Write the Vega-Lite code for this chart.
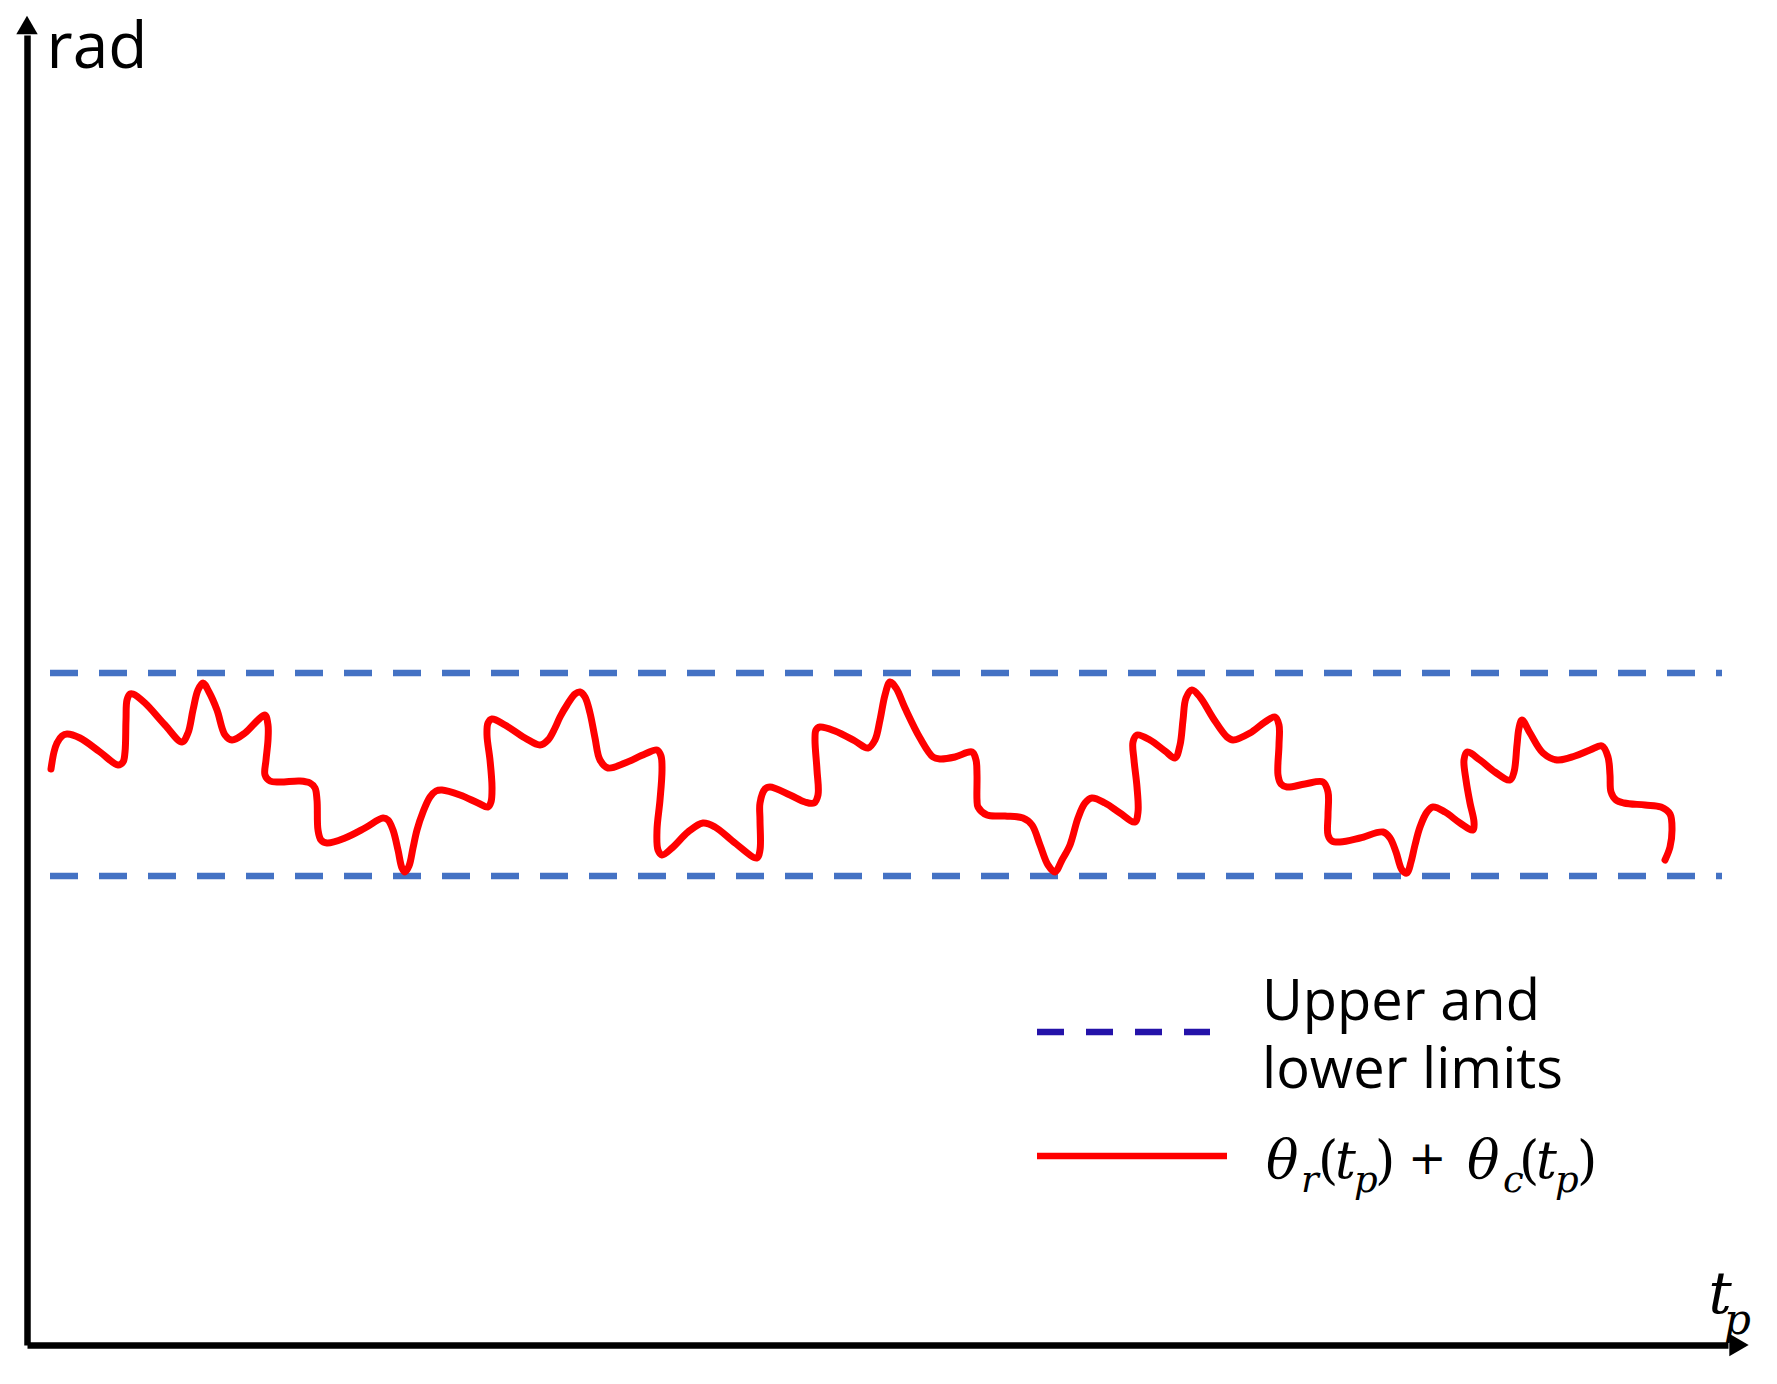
{
  "$schema": "https://vega.github.io/schema/vega-lite/v6.json",
  "width": 1701,
  "height": 1310,
  "autosize": {"type": "none"},
  "padding": {"left": 27, "top": 35, "right": 49, "bottom": 39},
  "background": "white",
  "config": {"view": {"stroke": null}},
  "datasets": {
    "curve": [
      {"i":1,"t":51,"rad":576},{"i":2,"t":54,"rad":593},{"i":3,"t":57,"rad":602},{"i":4,"t":62,"rad":609},{"i":5,"t":67,"rad":611},{"i":6,"t":80,"rad":607},{"i":7,"t":100,"rad":593},{"i":8,"t":118,"rad":580},{"i":9,"t":123,"rad":583},{"i":10,"t":125,"rad":593},{"i":11,"t":126,"rad":625},{"i":12,"t":127,"rad":645},{"i":13,"t":130,"rad":651},{"i":14,"t":133,"rad":651},{"i":15,"t":145,"rad":642},{"i":16,"t":165,"rad":620},{"i":17,"t":182,"rad":603},{"i":18,"t":188,"rad":612},{"i":19,"t":193,"rad":635},{"i":20,"t":198,"rad":655},{"i":21,"t":203,"rad":662},{"i":22,"t":209,"rad":653},{"i":23,"t":217,"rad":635},{"i":24,"t":225,"rad":610},{"i":25,"t":232,"rad":605},{"i":26,"t":245,"rad":612},{"i":27,"t":258,"rad":625},{"i":28,"t":265,"rad":630},{"i":29,"t":268,"rad":620},{"i":30,"t":268,"rad":605},{"i":31,"t":266,"rad":585},{"i":32,"t":265,"rad":570},{"i":33,"t":270,"rad":564},{"i":34,"t":280,"rad":563},{"i":35,"t":300,"rad":564},{"i":36,"t":310,"rad":562},
      {"i":37,"t":315,"rad":557},{"i":38,"t":317,"rad":545},{"i":39,"t":318,"rad":515},{"i":40,"t":321,"rad":505},{"i":41,"t":327,"rad":502},{"i":42,"t":345,"rad":507},{"i":43,"t":365,"rad":517},{"i":44,"t":383,"rad":527},{"i":45,"t":388,"rad":525},{"i":46,"t":393,"rad":515},{"i":47,"t":398,"rad":495},{"i":48,"t":402,"rad":477},{"i":49,"t":405,"rad":473},{"i":50,"t":409,"rad":479},{"i":51,"t":413,"rad":497},{"i":52,"t":417,"rad":515},{"i":53,"t":423,"rad":533},{"i":54,"t":430,"rad":548},{"i":55,"t":436,"rad":554},{"i":56,"t":442,"rad":555},{"i":57,"t":460,"rad":550},{"i":58,"t":478,"rad":542},{"i":59,"t":488,"rad":538},{"i":60,"t":491,"rad":543},{"i":61,"t":492,"rad":558},{"i":62,"t":490,"rad":585},{"i":63,"t":487,"rad":610},{"i":64,"t":488,"rad":622},{"i":65,"t":492,"rad":626},{"i":66,"t":505,"rad":620},{"i":67,"t":525,"rad":607},{"i":68,"t":540,"rad":600},{"i":69,"t":548,"rad":605},{"i":70,"t":555,"rad":617},{"i":71,"t":560,"rad":628},
      {"i":72,"t":567,"rad":640},{"i":73,"t":575,"rad":651},{"i":74,"t":580,"rad":653},{"i":75,"t":585,"rad":648},{"i":76,"t":590,"rad":632},{"i":77,"t":595,"rad":607},{"i":78,"t":600,"rad":585},{"i":79,"t":608,"rad":577},{"i":80,"t":625,"rad":582},{"i":81,"t":645,"rad":591},{"i":82,"t":657,"rad":595},{"i":83,"t":661,"rad":589},{"i":84,"t":662,"rad":575},{"i":85,"t":660,"rad":545},{"i":86,"t":657,"rad":515},{"i":87,"t":658,"rad":495},{"i":88,"t":662,"rad":490},{"i":89,"t":672,"rad":497},{"i":90,"t":688,"rad":513},{"i":91,"t":703,"rad":522},{"i":92,"t":715,"rad":518},{"i":93,"t":735,"rad":502},{"i":94,"t":757,"rad":487},{"i":95,"t":760,"rad":495},{"i":96,"t":760,"rad":525},{"i":97,"t":760,"rad":542},{"i":98,"t":765,"rad":556},{"i":99,"t":770,"rad":558},{"i":100,"t":790,"rad":550},{"i":101,"t":805,"rad":543},{"i":102,"t":814,"rad":542},{"i":103,"t":818,"rad":550},{"i":104,"t":817,"rad":575},{"i":105,"t":815,"rad":605},{"i":106,"t":816,"rad":615},{"i":107,"t":820,"rad":618},{"i":108,"t":835,"rad":614},{"i":109,"t":855,"rad":604},{"i":110,"t":868,"rad":597},{"i":111,"t":875,"rad":605},{"i":112,"t":880,"rad":625},{"i":113,"t":885,"rad":650},{"i":114,"t":890,"rad":663},{"i":115,"t":896,"rad":657},{"i":116,"t":905,"rad":637},{"i":117,"t":920,"rad":607},{"i":118,"t":933,"rad":588},{"i":119,"t":940,"rad":586},{"i":120,"t":955,"rad":588},{"i":121,"t":972,"rad":593},{"i":122,"t":976,"rad":585},{"i":123,"t":977,"rad":570},{"i":124,"t":977,"rad":545},{"i":125,"t":978,"rad":538},{"i":126,"t":987,"rad":530},{"i":127,"t":1005,"rad":529},{"i":128,"t":1023,"rad":527},{"i":129,"t":1032,"rad":520},{"i":130,"t":1040,"rad":500},{"i":131,"t":1048,"rad":480},{"i":132,"t":1055,"rad":473},{"i":133,"t":1062,"rad":485},{"i":134,"t":1070,"rad":500},{"i":135,"t":1078,"rad":527},{"i":136,"t":1085,"rad":542},{"i":137,"t":1092,"rad":547},{"i":138,"t":1105,"rad":542},{"i":139,"t":1120,"rad":532},{"i":140,"t":1135,"rad":523},{"i":141,"t":1138,"rad":533},{"i":142,"t":1137,"rad":558},{"i":143,"t":1134,"rad":585},{"i":144,"t":1133,"rad":603},{"i":145,"t":1137,"rad":610},{"i":146,"t":1150,"rad":605},{"i":147,"t":1165,"rad":594},{"i":148,"t":1175,"rad":587},{"i":149,"t":1180,"rad":600},{"i":150,"t":1183,"rad":625},{"i":151,"t":1186,"rad":647},{"i":152,"t":1192,"rad":655},{"i":153,"t":1200,"rad":648},{"i":154,"t":1213,"rad":627},{"i":155,"t":1227,"rad":608},{"i":156,"t":1233,"rad":605},{"i":157,"t":1250,"rad":612},{"i":158,"t":1265,"rad":623},{"i":159,"t":1275,"rad":628},{"i":160,"t":1279,"rad":620},{"i":161,"t":1279,"rad":600},{"i":162,"t":1278,"rad":570},{"i":163,"t":1281,"rad":561},{"i":164,"t":1287,"rad":558},{"i":165,"t":1305,"rad":561},{"i":166,"t":1323,"rad":563},{"i":167,"t":1328,"rad":553},{"i":168,"t":1328,"rad":530},{"i":169,"t":1328,"rad":510},{"i":170,"t":1332,"rad":504},{"i":171,"t":1340,"rad":503},{"i":172,"t":1360,"rad":507},{"i":173,"t":1383,"rad":513},{"i":174,"t":1390,"rad":507},{"i":175,"t":1396,"rad":493},{"i":176,"t":1402,"rad":475},{"i":177,"t":1407,"rad":472},{"i":178,"t":1411,"rad":483},{"i":179,"t":1415,"rad":500},{"i":180,"t":1420,"rad":518},{"i":181,"t":1427,"rad":533},{"i":182,"t":1433,"rad":538},{"i":183,"t":1445,"rad":533},{"i":184,"t":1460,"rad":522},{"i":185,"t":1473,"rad":515},{"i":186,"t":1474,"rad":523},{"i":187,"t":1470,"rad":542},{"i":188,"t":1466,"rad":565},{"i":189,"t":1464,"rad":585},{"i":190,"t":1467,"rad":593},{"i":191,"t":1480,"rad":585},{"i":192,"t":1495,"rad":573},{"i":193,"t":1510,"rad":565},{"i":194,"t":1514,"rad":573},{"i":195,"t":1517,"rad":600},{"i":196,"t":1519,"rad":617},{"i":197,"t":1522,"rad":625},{"i":198,"t":1530,"rad":612},{"i":199,"t":1543,"rad":592},{"i":200,"t":1557,"rad":585},{"i":201,"t":1575,"rad":589},{"i":202,"t":1590,"rad":595},{"i":203,"t":1602,"rad":599},{"i":204,"t":1608,"rad":588},{"i":205,"t":1610,"rad":570},{"i":206,"t":1611,"rad":553},{"i":207,"t":1616,"rad":545},{"i":208,"t":1624,"rad":542},{"i":209,"t":1645,"rad":540},{"i":210,"t":1661,"rad":538},{"i":211,"t":1670,"rad":531},{"i":212,"t":1672,"rad":515},{"i":213,"t":1670,"rad":498},{"i":214,"t":1665,"rad":485}
    ],
    "limits": [
      {"limit": "upper", "rad": 672, "t0": 50, "t1": 1722},
      {"limit": "lower", "rad": 469, "t0": 50, "t1": 1722}
    ],
    "one": [{}]
  },
  "layer": [
    {
      "data": {"name": "limits"},
      "mark": {"type": "rule", "color": "#4472C4", "strokeWidth": 6.5, "strokeDash": [28, 21], "strokeCap": "butt"},
      "encoding": {
        "x": {"field": "t0", "type": "quantitative", "scale": {"domain": [27, 1728], "nice": false, "zero": false},
          "axis": {"title": "t", "domain": true, "domainColor": "black", "domainWidth": 6.5, "domainOpacity": 1, "ticks": false, "labels": false, "grid": false,
            "titleFont": "DejaVu Serif", "titleFontStyle": "italic", "titleFontWeight": "normal", "titleFontSize": 58, "titleColor": "black",
            "titleX": 1681, "titleY": -33, "titleAlign": "left", "titleBaseline": "alphabetic", "titleAngle": 0}},
        "x2": {"field": "t1"},
        "y": {"field": "rad", "type": "quantitative", "scale": {"domain": [0, 1310], "nice": false, "zero": false},
          "axis": {"title": "rad", "domain": true, "domainColor": "black", "domainWidth": 6.5, "domainOpacity": 1, "ticks": false, "labels": false, "grid": false,
            "titleFont": "Open Sans", "titleFontWeight": "normal", "titleFontSize": 64, "titleColor": "black",
            "titleX": 19, "titleY": 32, "titleAlign": "left", "titleBaseline": "alphabetic", "titleAngle": 0}}
      }
    },
    {
      "data": {"name": "curve"},
      "mark": {"type": "line", "color": "#FF0000", "strokeWidth": 7, "interpolate": "catmull-rom", "strokeCap": "round", "strokeJoin": "round"},
      "encoding": {
        "x": {"field": "t", "type": "quantitative"},
        "y": {"field": "rad", "type": "quantitative"},
        "order": {"field": "i", "type": "quantitative"}
      }
    },
    {
      "data": {"name": "one"},
      "mark": {"type": "point", "shape": "triangle-up", "filled": true, "color": "black", "size": 460, "opacity": 1},
      "encoding": {"x": {"datum": 27}, "y": {"datum": 1320}}
    },
    {
      "data": {"name": "one"},
      "mark": {"type": "point", "shape": "triangle-right", "filled": true, "color": "black", "size": 500, "opacity": 1},
      "encoding": {"x": {"datum": 1739}, "y": {"datum": 0}}
    },
    {
      "data": {"name": "one"},
      "mark": {"type": "text", "text": "p", "font": "DejaVu Serif", "fontStyle": "italic", "fontSize": 42, "align": "left", "baseline": "alphabetic", "color": "black"},
      "encoding": {"x": {"datum": 1724}, "y": {"datum": 11}}
    },
    {
      "data": {"name": "one"},
      "mark": {"type": "rule", "color": "#2412A9", "strokeWidth": 6.5, "strokeDash": [27, 22], "strokeCap": "butt"},
      "encoding": {"x": {"datum": 1037}, "x2": {"datum": 1210}, "y": {"datum": 313}}
    },
    {
      "data": {"name": "one"},
      "mark": {"type": "rule", "color": "#FF0000", "strokeWidth": 6.5, "strokeCap": "butt"},
      "encoding": {"x": {"datum": 1037}, "x2": {"datum": 1227}, "y": {"datum": 189}}
    },
    {
      "data": {"name": "one"},
      "mark": {"type": "text", "text": ["Upper and", "lower limits"], "font": "Open Sans", "fontSize": 56, "lineHeight": 68, "align": "left", "baseline": "alphabetic", "color": "black"},
      "encoding": {"x": {"datum": 1262}, "y": {"datum": 325}}
    },
    {
      "data": {"name": "one"},
      "mark": {"type": "text", "text": "θ", "font": "DejaVu Serif", "fontStyle": "italic", "fontSize": 54, "align": "left", "baseline": "alphabetic", "color": "black"},
      "encoding": {"x": {"datum": 1266}, "y": {"datum": 167}}
    },
    {
      "data": {"name": "one"},
      "mark": {"type": "text", "text": "r", "font": "DejaVu Serif", "fontStyle": "italic", "fontSize": 37, "align": "left", "baseline": "alphabetic", "color": "black"},
      "encoding": {"x": {"datum": 1301}, "y": {"datum": 153}}
    },
    {
      "data": {"name": "one"},
      "mark": {"type": "text", "text": "(", "font": "DejaVu Serif", "fontSize": 52, "align": "left", "baseline": "alphabetic", "color": "black"},
      "encoding": {"x": {"datum": 1318}, "y": {"datum": 167}}
    },
    {
      "data": {"name": "one"},
      "mark": {"type": "text", "text": "t", "font": "DejaVu Serif", "fontStyle": "italic", "fontSize": 52, "align": "left", "baseline": "alphabetic", "color": "black"},
      "encoding": {"x": {"datum": 1335}, "y": {"datum": 167}}
    },
    {
      "data": {"name": "one"},
      "mark": {"type": "text", "text": "p", "font": "DejaVu Serif", "fontStyle": "italic", "fontSize": 37, "align": "left", "baseline": "alphabetic", "color": "black"},
      "encoding": {"x": {"datum": 1354}, "y": {"datum": 153}}
    },
    {
      "data": {"name": "one"},
      "mark": {"type": "text", "text": ")", "font": "DejaVu Serif", "fontSize": 52, "align": "left", "baseline": "alphabetic", "color": "black"},
      "encoding": {"x": {"datum": 1375}, "y": {"datum": 167}}
    },
    {
      "data": {"name": "one"},
      "mark": {"type": "text", "text": "+", "font": "DejaVu Serif", "fontSize": 46, "align": "left", "baseline": "alphabetic", "color": "black"},
      "encoding": {"x": {"datum": 1408}, "y": {"datum": 171}}
    },
    {
      "data": {"name": "one"},
      "mark": {"type": "text", "text": "θ", "font": "DejaVu Serif", "fontStyle": "italic", "fontSize": 54, "align": "left", "baseline": "alphabetic", "color": "black"},
      "encoding": {"x": {"datum": 1467}, "y": {"datum": 167}}
    },
    {
      "data": {"name": "one"},
      "mark": {"type": "text", "text": "c", "font": "DejaVu Serif", "fontStyle": "italic", "fontSize": 37, "align": "left", "baseline": "alphabetic", "color": "black"},
      "encoding": {"x": {"datum": 1503}, "y": {"datum": 153}}
    },
    {
      "data": {"name": "one"},
      "mark": {"type": "text", "text": "(", "font": "DejaVu Serif", "fontSize": 52, "align": "left", "baseline": "alphabetic", "color": "black"},
      "encoding": {"x": {"datum": 1519}, "y": {"datum": 167}}
    },
    {
      "data": {"name": "one"},
      "mark": {"type": "text", "text": "t", "font": "DejaVu Serif", "fontStyle": "italic", "fontSize": 52, "align": "left", "baseline": "alphabetic", "color": "black"},
      "encoding": {"x": {"datum": 1536}, "y": {"datum": 167}}
    },
    {
      "data": {"name": "one"},
      "mark": {"type": "text", "text": "p", "font": "DejaVu Serif", "fontStyle": "italic", "fontSize": 37, "align": "left", "baseline": "alphabetic", "color": "black"},
      "encoding": {"x": {"datum": 1555}, "y": {"datum": 153}}
    },
    {
      "data": {"name": "one"},
      "mark": {"type": "text", "text": ")", "font": "DejaVu Serif", "fontSize": 52, "align": "left", "baseline": "alphabetic", "color": "black"},
      "encoding": {"x": {"datum": 1577}, "y": {"datum": 167}}
    }
  ]
}
